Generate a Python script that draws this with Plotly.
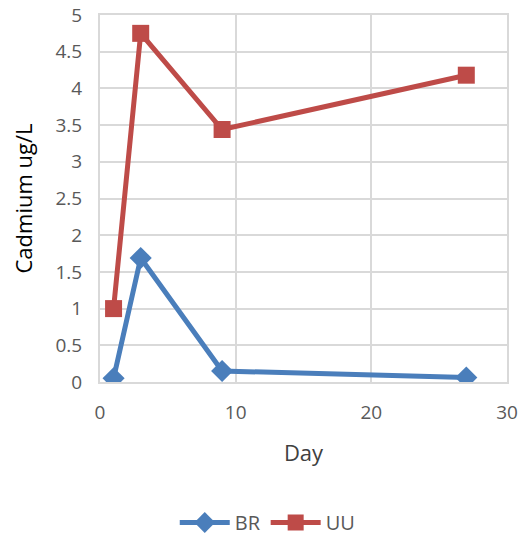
import plotly.graph_objects as go

days = [1, 3, 9, 27]
br = [0.05, 1.69, 0.15, 0.06]
uu = [1.0, 4.75, 3.44, 4.18]

fig = go.Figure()
fig.add_trace(go.Scatter(x=days, y=br, name="BR", mode="lines+markers",
                         line=dict(color="#4A7EBB", width=5),
                         marker=dict(symbol="diamond", size=17, color="#4A7EBB")))
fig.add_trace(go.Scatter(x=days, y=uu, name="UU", mode="lines+markers",
                         line=dict(color="#BE4B48", width=5),
                         marker=dict(symbol="square", size=17, color="#BE4B48")))

font = dict(family="Open Sans, Liberation Sans, sans-serif", size=18, color="#595959")
fig.update_layout(
    width=525, height=542,
    margin=dict(l=100, r=18, t=15, b=160, autoexpand=False),
    paper_bgcolor="white", plot_bgcolor="white",
    font=font,
    showlegend=True,
    legend=dict(orientation="h", x=0.51, xref="container", xanchor="center",
                y=0.0, yref="container", yanchor="bottom",
                font=dict(size=20, color="#595959"), itemwidth=50),
    xaxis=dict(range=[0, 30], dtick=10, showgrid=True, gridcolor="#D9D9D9", gridwidth=2,
               showline=True, linecolor="#D9D9D9", linewidth=2, mirror=True, zeroline=False,
               automargin=False, ticklabelstandoff=12,
               ticks="", title=dict(text="Day", font=dict(size=22, color="#404040"), standoff=22),
               tickfont=dict(size=19)),
    yaxis=dict(range=[0, 5], dtick=0.5, showgrid=True, gridcolor="#D9D9D9", gridwidth=2,
               showline=True, linecolor="#D9D9D9", linewidth=2, mirror=True, zeroline=False,
               automargin=False, ticklabelstandoff=12,
               ticks="", title=dict(text="Cadmium ug/L", font=dict(size=22, color="#000000"), standoff=17),
               tickfont=dict(size=19)),
)
fig.write_html("out.html")
